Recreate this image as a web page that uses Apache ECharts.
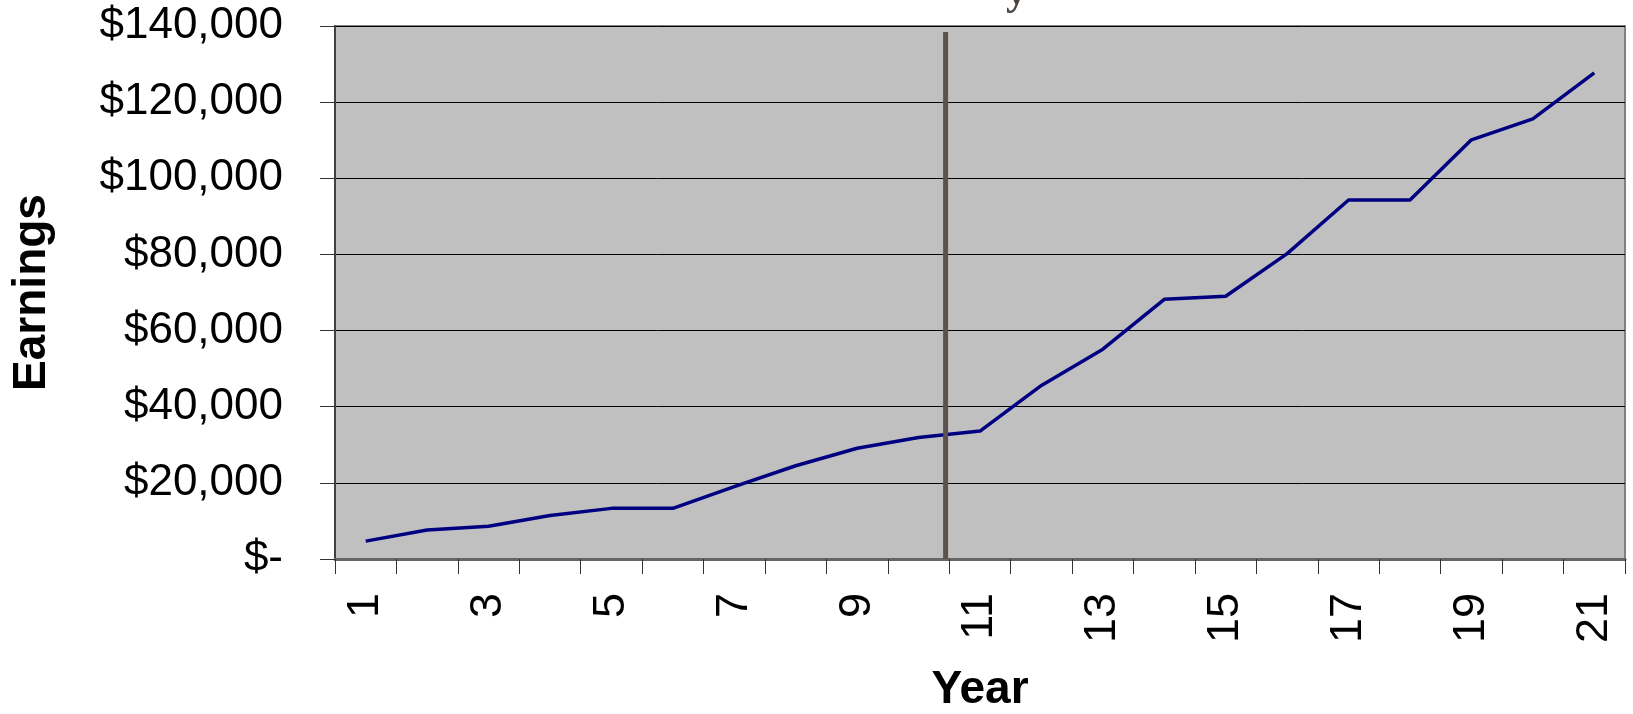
<!DOCTYPE html>
<html>
<head>
<meta charset="utf-8">
<script src="https://cdn.jsdelivr.net/npm/echarts@6/dist/echarts.min.js"></script>
<style>
html,body{margin:0;padding:0;background:#fff;}
#c{width:1633px;height:714px;}
</style>
</head>
<body>
<div id="c"></div>
<script>
var years = ['1','2','3','4','5','6','7','8','9','10','11','12','13','14','15','16','17','18','19','20','21'];
var earnings = [4700, 7600, 8600, 11400, 13300, 13300, 19000, 24500, 29100, 31900, 33600, 45600, 55100, 68200, 69000, 80200, 94300, 94300, 110100, 115600, 127700];
var markerLine = [[10.44, 0], [10.44, 138400]];
var yTicks = {min: 0, max: 140000, interval: 20000};
var titleFragment = 'y';

var chart = echarts.init(document.getElementById('c'), null, {renderer: 'canvas'});
var option = {
  animation: false,
  backgroundColor: '#ffffff',
  graphic: [{
    type: 'text',
    left: 1006,
    top: -28,
    z: 10,
    style: {
      text: titleFragment,
      fontFamily: 'Liberation Serif',
      fontWeight: 'bold',
      fontSize: 42,
      fill: '#4a433e'
    }
  }],
  grid: {
    left: 335, right: 8, top: 26, bottom: 155,
    outerBoundsMode: 'none',
    containLabel: false,
    show: true,
    backgroundColor: '#c0c0c0',
    borderColor: '#808080',
    borderWidth: 2
  },
  xAxis: [{
    type: 'category',
    data: years,
    boundaryGap: true,
    name: 'Year',
    nameLocation: 'middle',
    nameGap: 108,
    nameTextStyle: {fontFamily: 'Liberation Sans, Arial, sans-serif', fontWeight: 'bold', fontSize: 46, color: '#000'},
    axisLine: {show: true, lineStyle: {color: '#666666', width: 3}},
    axisTick: {show: true, alignWithLabel: false, interval: 0, length: 15, lineStyle: {color: '#333333', width: 1}},
    axisLabel: {
      interval: 1,
      rotate: 90,
      margin: 34,
      fontFamily: 'Liberation Sans, Arial, sans-serif',
      fontSize: 45,
      color: '#000'
    },
    splitLine: {show: false}
  }, {
    type: 'value',
    min: 0.5,
    max: 21.5,
    show: false
  }],
  yAxis: {
    type: 'value',
    min: yTicks.min,
    max: yTicks.max,
    interval: yTicks.interval,
    name: 'Earnings',
    nameLocation: 'middle',
    nameRotate: 90,
    nameGap: 280,
    nameTextStyle: {fontFamily: 'Liberation Sans, Arial, sans-serif', fontWeight: 'bold', fontSize: 46, color: '#000'},
    axisLine: {show: true, lineStyle: {color: '#404040', width: 2}},
    axisTick: {show: true, length: 15, lineStyle: {color: '#333333', width: 1}},
    axisLabel: {
      margin: 52,
      fontFamily: 'Liberation Sans, Arial, sans-serif',
      fontSize: 44,
      color: '#000',
      formatter: function (v) {
        if (v === 0) return '$-';
        return '$' + v.toLocaleString('en-US');
      }
    },
    splitLine: {show: true, lineStyle: {color: '#000000', width: 1}}
  },
  series: [{
    type: 'line',
    data: earnings,
    xAxisIndex: 0,
    symbol: 'none',
    lineStyle: {color: '#000080', width: 3.5},
    z: 3
  }, {
    type: 'line',
    data: markerLine,
    xAxisIndex: 1,
    symbol: 'none',
    lineStyle: {color: '#5a524c', width: 5},
    z: 4
  }]
};
chart.setOption(option);
</script>
</body>
</html>
